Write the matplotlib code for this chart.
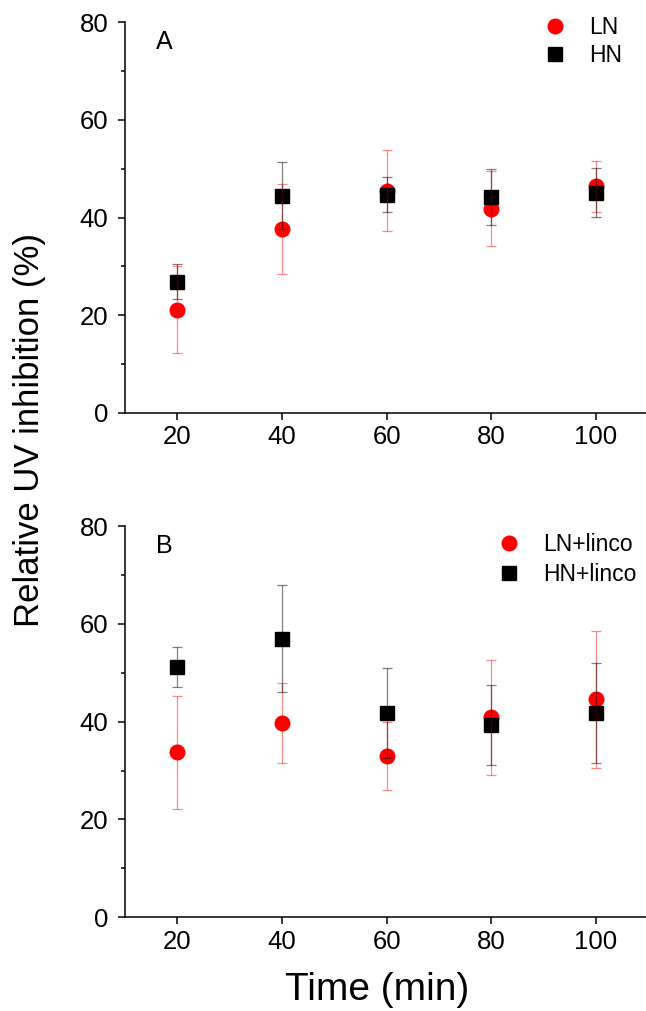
import matplotlib
matplotlib.use("Agg")
import matplotlib.pyplot as plt
from matplotlib.ticker import MultipleLocator

plt.rcParams['font.family'] = ['Liberation Sans', 'DejaVu Sans']

# sampling times (min)
time = [20, 40, 60, 80, 100]

# panel A
ln_mean = [21.1, 37.6, 45.5, 41.8, 46.4]
ln_err = [8.9, 9.2, 8.3, 7.7, 5.2]
hn_mean = [26.9, 44.5, 44.7, 44.2, 45.1]
hn_err = [3.6, 6.9, 3.6, 5.8, 5.0]

# panel B
lnl_mean = [33.7, 39.7, 33.0, 40.9, 44.6]
lnl_err = [11.5, 8.2, 6.9, 11.8, 14.0]
hnl_mean = [51.2, 57.0, 41.8, 39.3, 41.8]
hnl_err = [4.1, 11.0, 9.2, 8.1, 10.2]

panels = [
    ("A", ln_mean, ln_err, hn_mean, hn_err, "LN", "HN"),
    ("B", lnl_mean, lnl_err, hnl_mean, hnl_err, "LN+linco", "HN+linco"),
]

fig = plt.figure(figsize=(6.46, 10.11), dpi=100)
positions = [[0.1935, 0.5915, 0.81, 0.3867],
             [0.1935, 0.0927, 0.81, 0.3870]]
# legend anchors / row spacing per panel
leg_anchor = [(0.968, 1.04), (0.995, 1.006)]
leg_space = [0.25, 0.3]

for i, (pos, (tag, r_m, r_e, b_m, b_e, r_lab, b_lab)) in enumerate(zip(positions, panels)):
    ax = fig.add_axes(pos)
    h1, = ax.plot(time, r_m, 'o', color='#ff0000', markersize=10.5,
                  linestyle='none', zorder=2, label=r_lab)
    h2, = ax.plot(time, b_m, 's', color='black', markersize=9.5,
                  linestyle='none', zorder=2.1, label=b_lab)
    ax.errorbar(time, r_m, yerr=r_e, fmt='none', ecolor='#ff0000', alpha=0.45,
                elinewidth=0.9, capsize=3.5, capthick=0.9, zorder=3)
    ax.errorbar(time, b_m, yerr=b_e, fmt='none', ecolor='black', alpha=0.5,
                elinewidth=0.9, capsize=3.5, capthick=0.9, zorder=3.1)

    ax.set_xlim(10, 110)
    ax.set_ylim(0, 80)
    ax.set_xticks(time)
    ax.yaxis.set_major_locator(MultipleLocator(20))
    ax.yaxis.set_minor_locator(MultipleLocator(10))
    for s in ['top', 'right']:
        ax.spines[s].set_visible(False)
    for s in ['left', 'bottom']:
        ax.spines[s].set_linewidth(1.1)
    ax.tick_params(which='major', direction='out', length=5, width=1.1,
                   labelsize=18.5, pad=4)
    ax.tick_params(axis='y', which='major', pad=7)
    ax.tick_params(which='minor', direction='out', length=3, width=1.1)

    ax.text(0.06, 0.95, tag, transform=ax.transAxes, fontsize=18,
            ha='left', va='center')
    ax.legend(handles=[h1, h2], loc='upper right', frameon=False,
              fontsize=16.5, handletextpad=0.75, borderaxespad=0.0,
              bbox_to_anchor=leg_anchor[i], labelspacing=leg_space[i],
              handlelength=1.5)

fig.text(0.046, 0.575, "Relative UV inhibition (%)", rotation=90,
         fontsize=25, ha='center', va='center')
fig.text(0.584, 0.021, "Time (min)", fontsize=28, ha='center', va='center')

fig.savefig("out.png", dpi=100)
